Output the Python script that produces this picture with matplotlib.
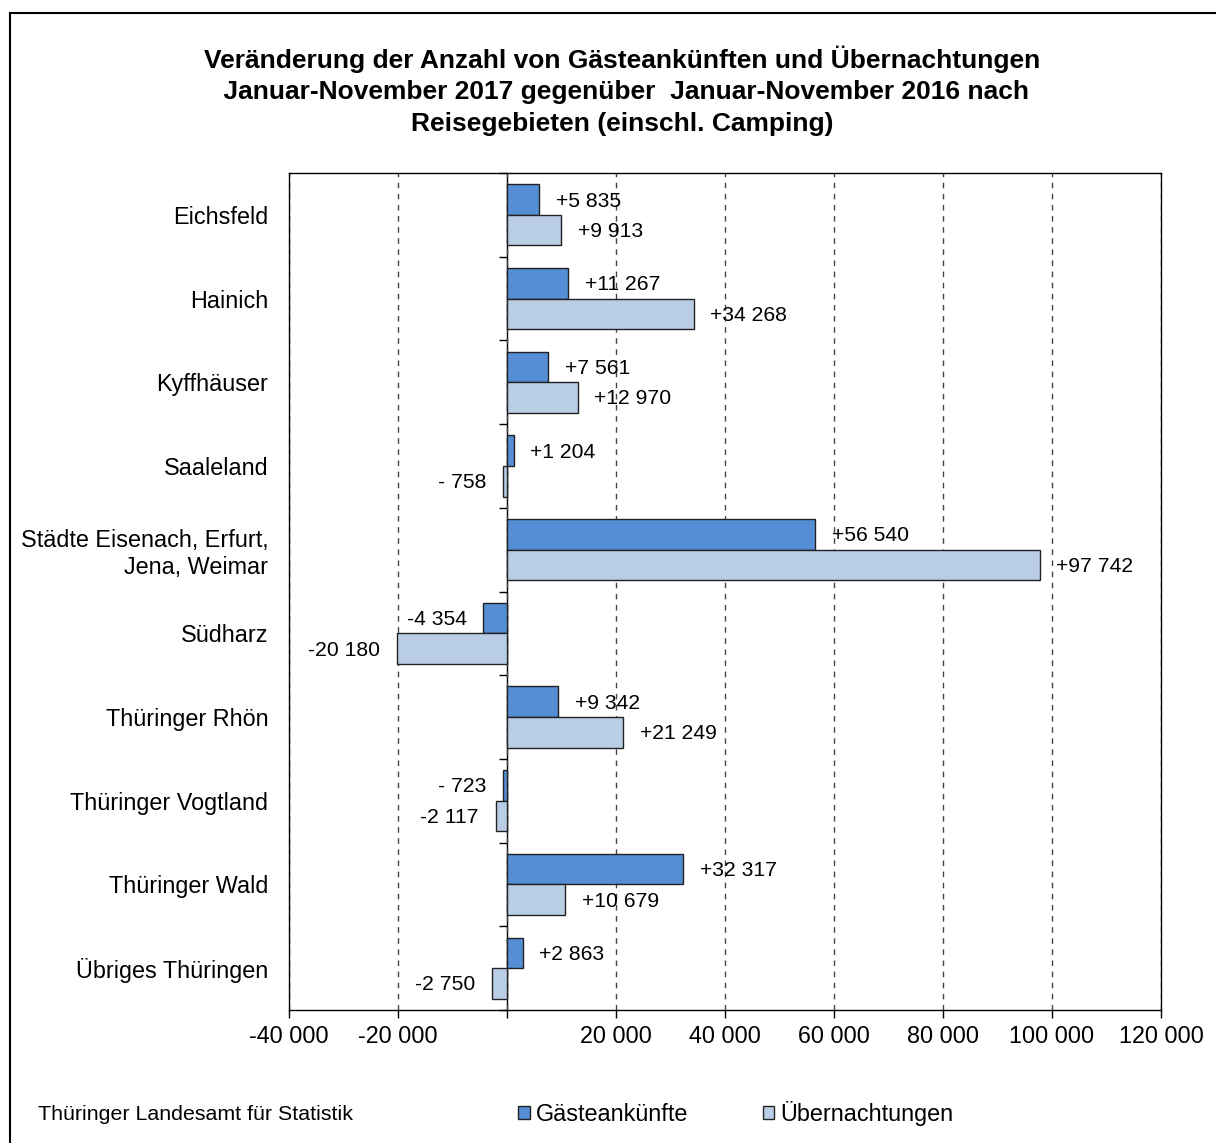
import numpy as np
import matplotlib.pyplot as plt
from matplotlib.patches import Rectangle

plt.rcParams['font.family'] = ['Liberation Sans', 'DejaVu Sans']

regions = ["Eichsfeld", "Hainich", "Kyffhäuser", "Saaleland",
           "Städte Eisenach, Erfurt,\nJena, Weimar", "Südharz",
           "Thüringer Rhön", "Thüringer Vogtland", "Thüringer Wald",
           "Übriges Thüringen"]
gaeste = [5835, 11267, 7561, 1204, 56540, -4354, 9342, -723, 32317, 2863]
uebern = [9913, 34268, 12970, -758, 97742, -20180, 21249, -2117, 10679, -2750]

xticks = [-40000, -20000, 0, 20000, 40000, 60000, 80000, 100000, 120000]
xticklabels = ["-40 000", "-20 000", "", "20 000", "40 000", "60 000",
               "80 000", "100 000", "120 000"]

dark = "#558ED5"
light = "#B9CDE5"


def fmt(v):
    s = f"{abs(v):,}".replace(",", " ")
    if v >= 0:
        return "+" + s
    if abs(v) < 1000:
        return "- " + s
    return "-" + s


fig = plt.figure(figsize=(12.16, 11.43), dpi=100)
ax = fig.add_axes([0.2377, 0.1164, 0.9548 - 0.2377, 0.8486 - 0.1164])

y = np.arange(len(regions))
h = 0.365
b1 = ax.barh(y - h / 2, gaeste, height=h, color=dark, edgecolor="#222222", linewidth=1)
b2 = ax.barh(y + h / 2, uebern, height=h, color=light, edgecolor="#222222", linewidth=1)

for bars, vals in ((b1, gaeste), (b2, uebern)):
    for bar, v in zip(bars, vals):
        yc = bar.get_y() + bar.get_height() / 2
        if v >= 0:
            ax.annotate(fmt(v), (v, yc), xytext=(12, -1), textcoords="offset points",
                        ha="left", va="center", fontsize=15.2)
        else:
            ax.annotate(fmt(v), (v, yc), xytext=(-12, -1), textcoords="offset points",
                        ha="right", va="center", fontsize=15.2)

ax.set_xlim(-40000, 120000)
ax.set_ylim(len(regions) - 0.5, -0.5)
ax.set_xticks(xticks)
ax.set_xticklabels(xticklabels, fontsize=16.8)
ax.tick_params(axis="x", direction="out", length=6, width=1, pad=5)
ax.set_yticks(y)
ax.set_yticklabels(regions, fontsize=16.8, ha="right")
ax.tick_params(axis="y", length=0, pad=15)
ax.grid(axis="x", linestyle=(0, (4, 4)), color="#444444", linewidth=1)
ax.set_axisbelow(True)
for sp in ax.spines.values():
    sp.set_color("black")
    sp.set_linewidth(1)

# zero line with category separator ticks
sec = ax.secondary_yaxis(0, transform=ax.transData)
sec.set_yticks(np.arange(len(regions) + 1) - 0.5)
sec.set_yticklabels([])
sec.tick_params(direction="out", length=6, width=1)
sec.spines["left"].set_linewidth(1)

fig.text(0.512, 0.960,
         "Veränderung der Anzahl von Gästeankünften und Übernachtungen\n"
         " Januar-November 2017 gegenüber  Januar-November 2016 nach\n"
         "Reisegebieten (einschl. Camping)",
         ha="center", va="top", fontsize=19, fontweight="bold", linespacing=1.38)

fig.text(0.031, 0.025, "Thüringer Landesamt für Statistik", fontsize=15.4,
         ha="left", va="center")

fig.legend([b1, b2], ["Gästeankünfte", "Übernachtungen"], loc="center",
           bbox_to_anchor=(0.605, 0.026), ncol=2, frameon=False, fontsize=16.8,
           handlelength=0.5, handleheight=0.5, handletextpad=0.25, columnspacing=3.2)

fig.patches.append(Rectangle((0.0082, -0.1), 1.2, 0.9886 + 0.1, transform=fig.transFigure,
                             fill=False, edgecolor="black", linewidth=1.5))

plt.savefig("out.png", dpi=100)
